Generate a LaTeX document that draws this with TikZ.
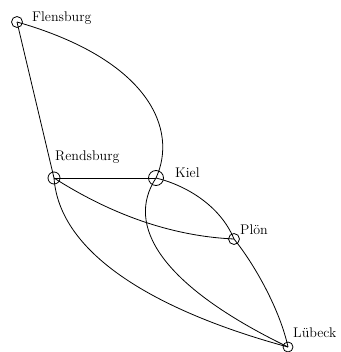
\documentclass[tikz,border=0pt]{standalone}
\begin{document}
\begin{tikzpicture}[x=1pt,y=-1pt,
  town/.style={circle,draw,line width=0.8pt,inner sep=0pt,minimum size=#1},
  lbl/.style={anchor=base west,inner sep=0pt,font=\fontsize{14}{16}\selectfont},
  road/.style={line width=0.8pt}]
\useasboundingbox (0,0) rectangle (340,352);
\node[town=11pt] (f) at (17,22) {};
\node[town=12pt] (r) at (54,178) {};
\node[town=15pt] (k) at (156,178) {};
\node[town=11pt] (p) at (234,239) {};
\node[town=10pt] (l) at (288,347) {};
\node[lbl] (fl) at (32,22) {Flensburg};
\node[lbl] (rl) at (55,161) {Rendsburg};
\node[lbl] (kl) at (175,178) {Kiel};
\node[lbl] (pl) at (240,234) {Plön};
\node[lbl] (ll) at (293,337) {Lübeck};
\draw[road] (f.center) -- (r.center);
\draw[road] (f.center) .. controls (150,60) and (178,130) .. (k.center);
\draw[road] (r.center) -- (k.center);
\draw[road] (r.center) .. controls (109,213) and (169,236) .. (p.center);
\draw[road] (r.center) .. controls (60,260) and (170,315) .. (l.center);
\draw[road] (k.center) .. controls (185,185) and (220,205) .. (p.center);
\draw[road] (p.center) .. controls (255,265) and (280,310) .. (l.center);
\draw[road] (k.center) .. controls (125,225) and (160,285) .. (l.center);
\end{tikzpicture}
\end{document}
